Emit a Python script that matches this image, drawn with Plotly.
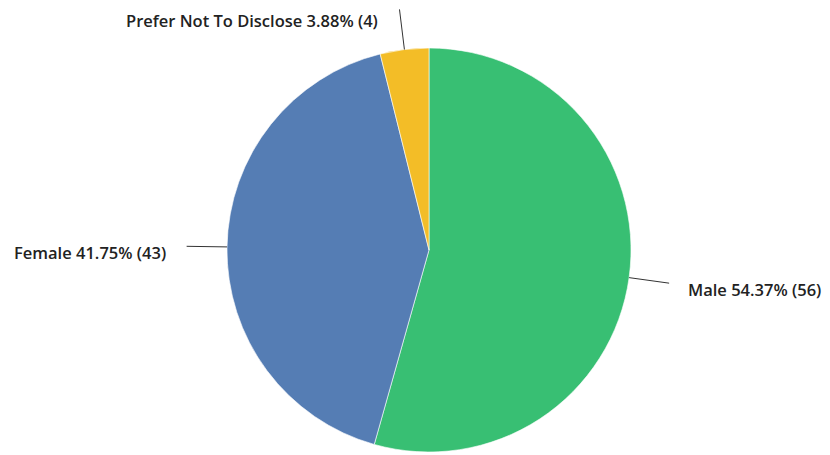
import math
import plotly.graph_objects as go

labels = ["Male", "Female", "Prefer Not To Disclose"]
counts = [56, 43, 4]
colors = ["#38BF73", "#557DB4", "#F3BD27"]

W, H = 830, 455
OFF = 8  # page body margin
CX, CY, R = 429 - OFF, 250 - OFF, 202  # pixel layout of the pie (figure coords)

total = sum(counts)
fig = go.Figure(go.Pie(
    labels=labels, values=counts, sort=False, direction="clockwise", rotation=0,
    marker=dict(colors=colors, line=dict(color="white", width=0.6)),
    textinfo="none", hoverinfo="label+percent+value", showlegend=False,
    domain=dict(x=[(CX - R) / W, (CX + R) / W], y=[(H - CY - R) / H, (H - CY + R) / H]),
))

def px(x, y):
    return x / W, 1 - y / H

shapes, annotations = [], []
cum = 0
for lab, c in zip(labels, counts):
    frac = c / total
    mid = (cum + frac / 2) * 2 * math.pi
    cum += frac
    s, co = math.sin(mid), math.cos(mid)
    x0, y0 = CX + R * s, CY - R * co
    x1, y1 = CX + R * 1.2 * s, CY - R * 1.2 * co
    a0, b0 = px(x0, y0)
    a1, b1 = px(x1, y1)
    shapes.append(dict(type="line", xref="paper", yref="paper", x0=a0, y0=b0, x1=a1, y1=b1,
                       line=dict(color="#333333", width=1)))
    right = s > 0
    pct = round(frac * 100, 2)
    if right:
        ys = -6
    elif abs(co) < 0.5:
        ys = -6
    else:
        ys = -11
    annotations.append(dict(
        xref="paper", yref="paper", x=a1, y=b1, showarrow=False,
        xanchor="left" if right else "right", yanchor="middle",
        xshift=18 if right else -20, yshift=ys, borderpad=0,
        text=f"{lab} {pct:.2f}% ({c})",
        font=dict(family="Open Sans", size=16.5, color="#222222", weight=600),
    ))

fig.update_layout(
    width=W, height=H, margin=dict(l=0, r=0, t=0, b=0),
    paper_bgcolor="white", plot_bgcolor="white",
    shapes=shapes, annotations=annotations,
)
fig.write_html("out.html")
